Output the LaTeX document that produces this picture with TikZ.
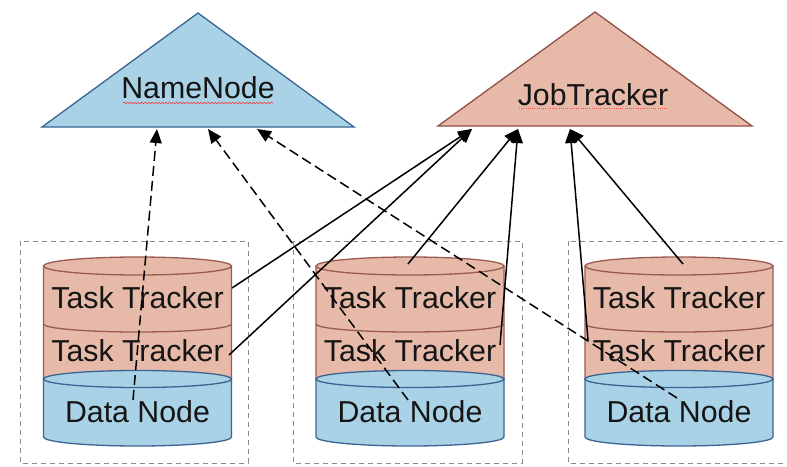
\documentclass[tikz,border=0pt]{standalone}
\usepackage{fontspec}
\setmainfont{Liberation Sans}
\usetikzlibrary{arrows.meta,decorations.pathmorphing}
\definecolor{salmon}{HTML}{E6B9A8}
\definecolor{salmonline}{HTML}{9A5A52}
\definecolor{jtline}{HTML}{915046}
\definecolor{skyfill}{HTML}{A9D2E6}
\definecolor{skyline}{HTML}{3A6592}
\definecolor{boxline}{HTML}{8A8A8A}
\definecolor{txt}{HTML}{151515}
\tikzset{
  ttstyle/.style={fill=salmon,draw=salmonline,line width=1.3pt},
  ttline/.style={draw=salmonline,line width=1.3pt},
  dnstyle/.style={fill=skyfill,draw=skyline,line width=1.3pt},
  lbl/.style={anchor=base,inner sep=0pt,text=txt,font=\fontsize{30.3}{31}\selectfont},
  groupbox/.style={draw=boxline,line width=0.8pt,dash pattern=on 5pt off 4pt},
  jtarrow/.style={draw=black,line width=1.5pt,-{Triangle[length=14pt,width=12pt]}},
  nnarrow/.style={draw=black,line width=1.5pt,dash pattern=on 10pt off 5pt,-{Triangle[length=14pt,width=12pt]}},
}
\newcommand\hcylinder[2]{%
  \begin{scope}[shift={(#1,0)}]
    \filldraw[ttstyle] (-94,266) -- (-94,379) arc[start angle=180,end angle=360,x radius=94pt,y radius=9pt] -- (94,266) -- cycle;
    \filldraw[ttstyle] (0,266) ellipse[x radius=94pt,y radius=9pt];
    \draw[ttline] (-94,324) arc[start angle=180,end angle=360,x radius=94pt,y radius=8pt];
    \filldraw[dnstyle] (-94,379) -- (-94,437) arc[start angle=180,end angle=360,x radius=94pt,y radius=9pt] -- (94,379) -- cycle;
    \filldraw[dnstyle] (0,379) ellipse[x radius=94pt,y radius=8.5pt];
  \end{scope}
  \node[lbl] (tta#2) at (#1,308) {Task Tracker};
  \node[lbl] (ttb#2) at (#1,361) {Task Tracker};
  \node[lbl] (dn#2) at (#1,422) {Data Node};
}
\begin{document}
\begin{tikzpicture}[x=1pt,y=-1pt]
\useasboundingbox (0,0) rectangle (787,466);
\fill[white] (0,0) rectangle (787,466);
% group boxes
\draw[groupbox] (20,241) rectangle (248,463);
\draw[groupbox] (293,241) rectangle (522,463);
\draw[groupbox] (568,241) rectangle (800,463);
% NameNode triangle
\filldraw[fill=skyfill,draw=skyline,line width=1.3pt] (42,127) -- (198,13) -- (354,127) -- cycle;
\node[lbl] (nn) at (198,98) {NameNode};
\draw[red!80!white,line width=0.6pt,decorate,decoration={snake,amplitude=0.9pt,segment length=3.5pt}] (123,103) -- (273,103);
% JobTracker triangle
\filldraw[fill=salmon,draw=jtline,line width=1.3pt] (438,126) -- (595,12) -- (752,126) -- cycle;
\node[lbl] (jt) at (593,105) {JobTracker};
\draw[red!70!white,line width=0.6pt,dash pattern=on 1pt off 1.2pt] (519,108) -- (668,108);
% cylinders
\hcylinder{137.5}{1}
\hcylinder{410}{2}
\hcylinder{679}{3}
% connector end points
\coordinate (jtA) at (472,129);
\coordinate (jtB) at (518,129);
\coordinate (jtC) at (570,129);
\coordinate (nnA) at (157,129);
\coordinate (nnB) at (208,129);
\coordinate (nnC) at (257,129);
\coordinate (s11) at (232,288);
\coordinate (s12) at (229,355);
\coordinate (s21) at (408,264);
\coordinate (s22) at (500,345);
\coordinate (s31) at (588,340);
\coordinate (s32) at (683,264);
\coordinate (d1) at (133,400);
\coordinate (d2) at (408,400);
\coordinate (d3) at (677,398);
% solid arrows to JobTracker
\draw[jtarrow] (s11) -- (jtA);
\draw[jtarrow] (s12) -- (jtA);
\draw[jtarrow] (s21) -- (jtB);
\draw[jtarrow] (s22) -- (jtB);
\draw[jtarrow] (s31) -- (jtC);
\draw[jtarrow] (s32) -- (jtC);
% dashed arrows to NameNode
\draw[nnarrow] (d1) -- (nnA);
\draw[nnarrow] (d2) -- (nnB);
\draw[nnarrow] (d3) -- (nnC);
\end{tikzpicture}
\end{document}
